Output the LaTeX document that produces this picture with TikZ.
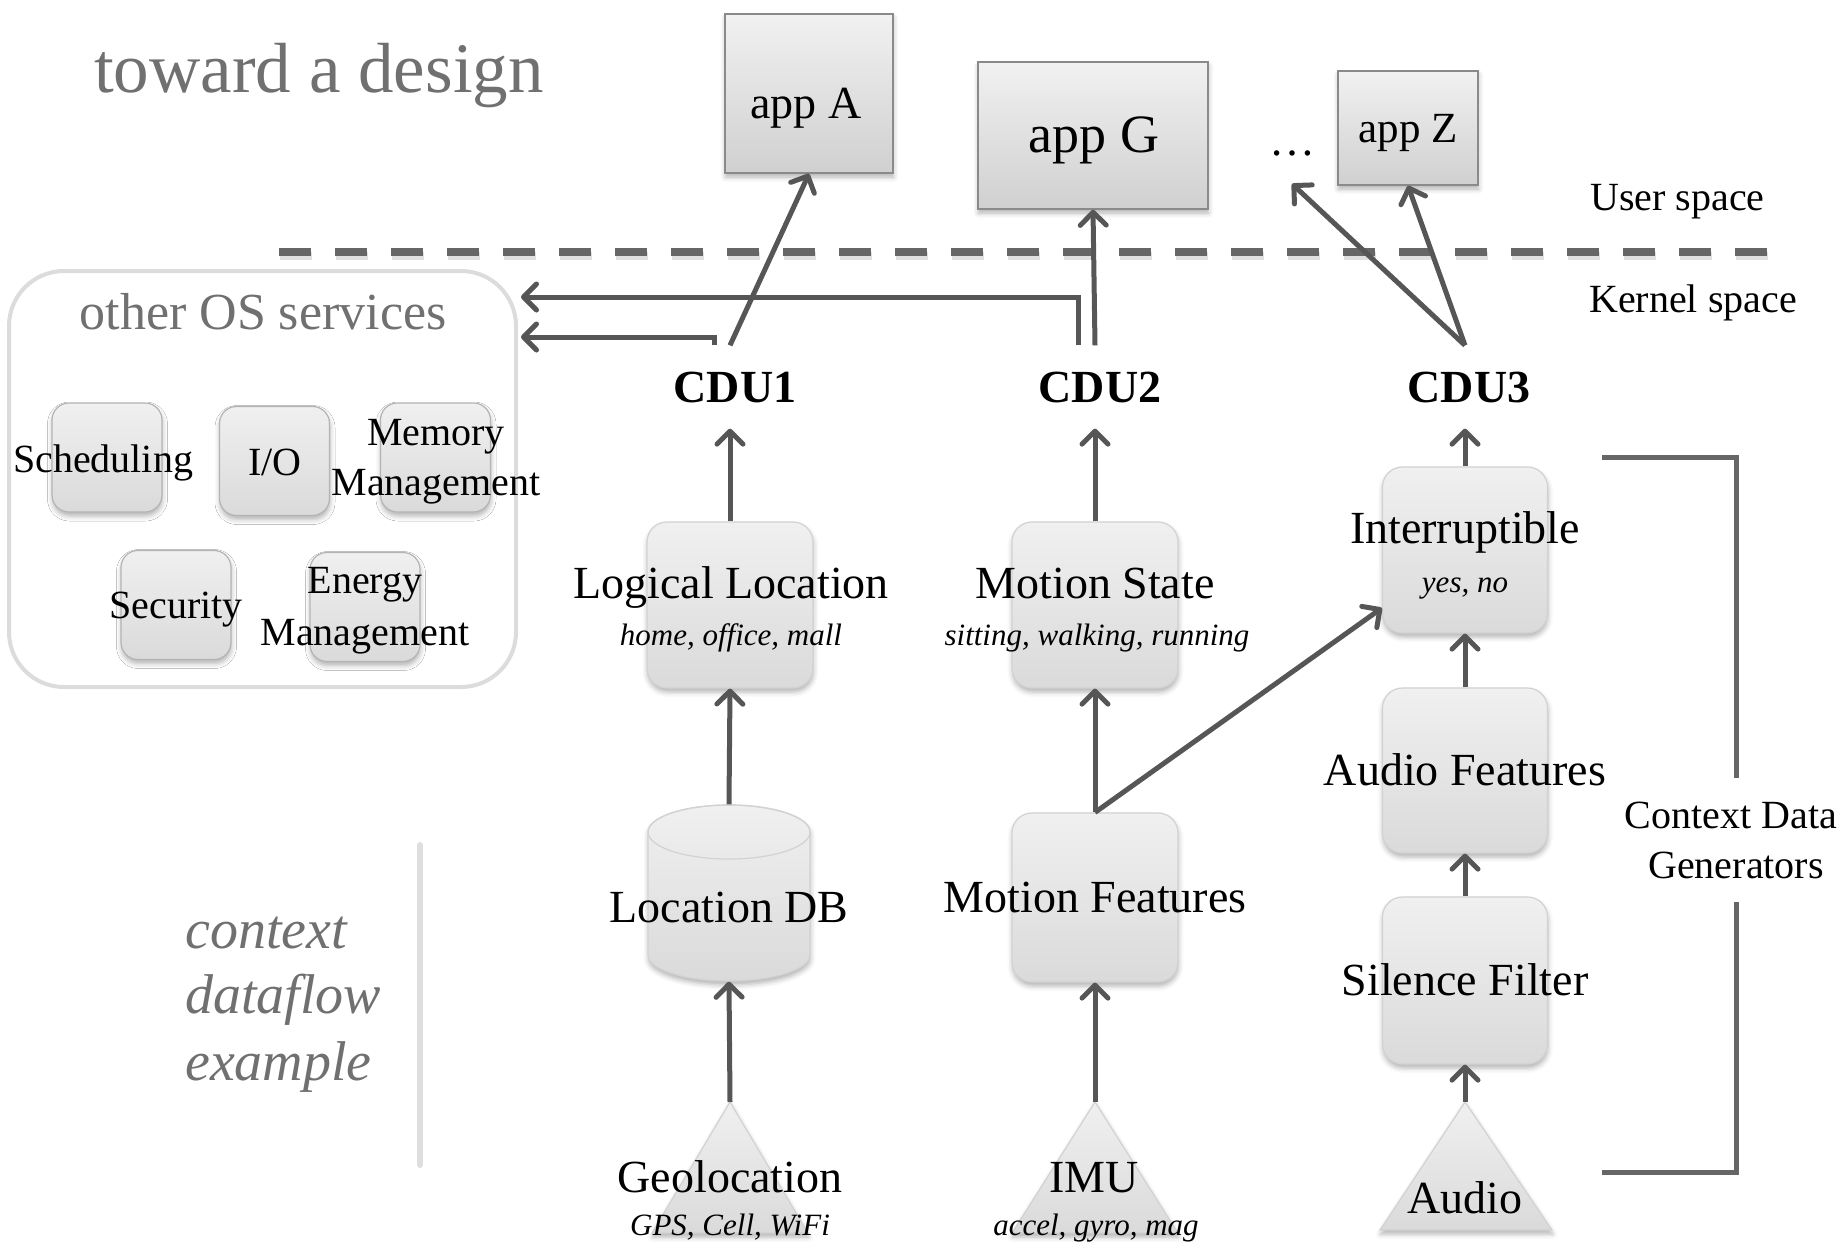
\documentclass[tikz,border=0pt]{standalone}
\usepackage{fontspec}
\setmainfont{Liberation Serif}
\usetikzlibrary{arrows.meta,calc,shadows.blur}

\definecolor{flow}{HTML}{565656}
\definecolor{rule}{HTML}{666666}
\definecolor{softtext}{HTML}{707070}
\definecolor{cardtop}{HTML}{F0F0F0}
\definecolor{cardbot}{HTML}{DADADA}
\definecolor{cardedge}{HTML}{D2D2D2}
\definecolor{svcedge}{HTML}{B4B4B4}
\definecolor{apptop}{HTML}{F1F1F1}
\definecolor{appbot}{HTML}{D0D0D0}
\definecolor{appedge}{HTML}{8A8A8A}
\definecolor{panel}{HTML}{DCDCDC}
\definecolor{divider}{HTML}{DEDEDE}

\newcommand\fsz[2]{\fontsize{#1}{#2}\selectfont}

\tikzset{
  softshadow/.style={blur shadow={shadow xshift=0.5pt, shadow yshift=-4pt, shadow blur radius=5pt, shadow opacity=30}},
  card/.style={rectangle, rounded corners=20pt, draw=cardedge, line width=1.2pt,
    top color=cardtop, bottom color=cardbot, softshadow, inner sep=0pt},
  stagebox/.style={card, minimum width=166pt, minimum height=166pt},
  svcbox/.style={card, rounded corners=17pt, draw=svcedge, minimum width=110pt, minimum height=109pt},
  appbox/.style={rectangle, draw=appedge, line width=1.5pt, top color=apptop,
    bottom color=appbot, softshadow, inner sep=0pt},
  sensor/.style={draw=cardedge, line width=1.2pt, top color=cardtop, bottom color=cardbot, softshadow},
  panelbox/.style={rectangle, rounded corners=55pt, draw=panel, line width=4pt, fill=white, inner sep=0pt},
  stagelbl/.style={font=\fsz{46}{50}, anchor=base, inner sep=0pt},
  valuelbl/.style={font=\itshape\fsz{31}{34}, anchor=base, inner sep=0pt},
  svclbl/.style={font=\fsz{40}{46}, anchor=base, inner sep=0pt},
  cdulbl/.style={font=\bfseries\fsz{46}{50}, anchor=base, inner xsep=2pt, inner ysep=26pt},
  applbl/.style={font=\fsz{46}{50}, anchor=base, inner sep=0pt},
  sidelbl/.style={font=\fsz{40}{46}, anchor=base west, inner sep=0pt},
  captionlbl/.style={font=\itshape\fsz{56}{66}, text=softtext, anchor=base west, inner sep=0pt},
  flowarrow/.style={draw=flow, line width=5pt, -{Straight Barb[length=13pt, width=26pt, round]}},
  bracketline/.style={draw=rule, line width=5pt},
}

\begin{document}
\begin{tikzpicture}[x=1pt, y=-1pt]
\useasboundingbox (0,0) rectangle (1848,1248);

% heading
\node[font=\fsz{71}{80}, text=softtext, anchor=base west, inner sep=0pt] (heading) at (94,92) {toward a design};

% user / kernel boundary
\draw[black, opacity=0.12, line width=8pt, dash pattern=on 32pt off 24pt] (280,256) -- (1768,256);
\draw[rule, line width=8pt, dash pattern=on 32pt off 24pt] (279,252) -- (1767,252);
\node[sidelbl] (user) at (1590,210) {User space};
\node[sidelbl] (kernel) at (1589,312) {Kernel space};

% applications
\node[appbox, minimum width=168pt, minimum height=159pt] (appA) at (809,93.5) {};
\node[applbl] (appAt) at (806,118) {app A};
\node[appbox, minimum width=230pt, minimum height=147pt] (appG) at (1093,135.5) {};
\node[applbl, font=\fsz{54}{60}] (appGt) at (1094,152) {app G};
\node[appbox, minimum width=140pt, minimum height=114pt] (appZ) at (1408,128) {};
\node[applbl, font=\fsz{43}{48}] (appZt) at (1408,142) {app Z};
\node[applbl, inner ysep=28pt] (dots) at (1292,155) {…};

% other OS services
\node[panelbox, minimum width=507pt, minimum height=416pt] (os) at (262.5,479) {};
\node[font=\fsz{52}{58}, text=softtext, anchor=base, inner sep=0pt] (ostitle) at (263,329) {other OS services};
\node[svcbox] (sched) at (107,457.5) {};
\node[svcbox] (io) at (274.5,461) {};
\node[svcbox] (mem) at (435.5,457.5) {};
\node[svcbox] (sec) at (176,605) {};
\node[svcbox] (energy) at (365,607) {};
\node[svclbl] (schedt) at (103,472) {Scheduling};
\node[svclbl] (iot) at (275,475) {I/O};
\node[svclbl] (memt) at (436,445) {Memory};
\node[svclbl] (memt2) at (436,495) {Management};
\node[svclbl] (sect) at (176,618) {Security};
\node[svclbl] (energyt) at (365,593) {Energy};
\node[svclbl] (energyt2) at (365,645) {Management};

% side caption
\draw[divider, line width=6pt, line cap=round] (420,845) -- (420,1165);
\node[captionlbl] (cap1) at (185,948) {context};
\node[captionlbl] (cap2) at (185,1013) {dataflow};
\node[captionlbl] (cap3) at (185,1080) {example};

% sensors
\coordinate (geo) at (730,1102);
\coordinate (imu) at (1095,1102);
\coordinate (aud) at (1465,1102);
\path[sensor] (geo) -- (808,1233) -- (652,1233) -- cycle;
\path[sensor] (imu) -- (1178,1233) -- (1012,1233) -- cycle;
\path[sensor] (aud) -- (1552,1230) -- (1380,1230) -- cycle;
\node[stagelbl] (geot) at (730,1192) {Geolocation};
\node[valuelbl] (geov) at (730,1235) {GPS, Cell, WiFi};
\node[stagelbl] (imut) at (1094,1192) {IMU};
\node[valuelbl] (imuv) at (1096,1235) {accel, gyro, mag};
\node[stagelbl] (audt) at (1465,1213) {Audio};

% location database
\node[inner sep=0pt, minimum width=162pt, minimum height=177pt] (db) at (729,893) {};
\path[sensor] (648,832) -- (648,955) arc[start angle=180, end angle=360, x radius=81pt, y radius=26pt]
  -- (810,832) arc[start angle=0, end angle=180, x radius=81pt, y radius=27pt] -- cycle;
\draw[cardedge, line width=1.2pt] (729,832) ellipse[x radius=81pt, y radius=27pt];
\node[stagelbl] (dbt) at (729,922) {Location DB};

% processing stages
\node[stagebox] (ll) at (730,605) {};
\node[stagebox] (ms) at (1095,605) {};
\node[stagebox, minimum height=169pt] (mf) at (1095,897.5) {};
\node[stagebox, minimum width=165pt] (int) at (1465,550) {};
\node[stagebox, minimum width=165pt, minimum height=165pt] (af) at (1465,770.5) {};
\node[stagebox, minimum width=165pt, minimum height=167pt] (sf) at (1465,980.5) {};
\node[stagelbl] (llt) at (731,598) {Logical Location};
\node[valuelbl] (llv) at (731,645) {home, office, mall};
\node[stagelbl] (mst) at (1095,598) {Motion State};
\node[valuelbl] (msv) at (1097,645) {sitting, walking, running};
\node[stagelbl] (mft) at (1095,912) {Motion Features};
\node[stagelbl] (intt) at (1465,543) {Interruptible};
\node[valuelbl] (intv) at (1465,592) {yes, no};
\node[stagelbl] (aft) at (1465,785) {Audio Features};
\node[stagelbl] (sft) at (1465,995) {Silence Filter};

% context data units
\node[cdulbl] (cdu1) at (735,402) {CDU1};
\node[cdulbl] (cdu2) at (1100,402) {CDU2};
\node[cdulbl] (cdu3) at (1469,402) {CDU3};

% dataflow
\draw[flowarrow] (geo) -- (db.south);
\draw[flowarrow] (db.north) -- (ll.south);
\draw[flowarrow] (ll.north) -- (ll.north |- cdu1.south);
\draw[flowarrow] (imu) -- (mf.south);
\draw[flowarrow] (mf.north) -- (ms.south);
\draw[flowarrow] (ms.north) -- (ms.north |- cdu2.south);
\draw[flowarrow] (mf.north) -- ($(int.west)+(0,58)$);
\draw[flowarrow] (aud) -- (sf.south);
\draw[flowarrow] (sf.north) -- (af.south);
\draw[flowarrow] (af.north) -- (int.south);
\draw[flowarrow] (int.north) -- (int.north |- cdu3.south);

% delivery to applications and OS services
\draw[flowarrow] (ll.north |- cdu1.north) -- (appA.south);
\draw[flowarrow] ($(ll.north |- cdu1.north)+(-16,0)$) |- ($(os.east)+(3,-142)$);
\draw[flowarrow] ($(ms.north |- cdu2.north)+(-17,0)$) |- ($(os.east)+(3,-182)$);
\draw[flowarrow] (ms.north |- cdu2.north) -- (appG.south);
\draw[flowarrow] (int.north |- cdu3.north) -- (dots.south);
\draw[flowarrow] (int.north |- cdu3.north) -- (appZ.south);

% context data generators bracket
\node[font=\fsz{40}{46}, anchor=base, inner sep=0pt] (cdg1) at (1731,828) {Context Data};
\node[font=\fsz{40}{46}, anchor=base, inner sep=0pt] (cdg2) at (1736,878) {Generators};
\draw[bracketline] (1602,457) -- (1736,457) -- (1736,778);
\draw[bracketline] (1736,902) -- (1736,1172) -- (1602,1172);
\end{tikzpicture}
\end{document}
